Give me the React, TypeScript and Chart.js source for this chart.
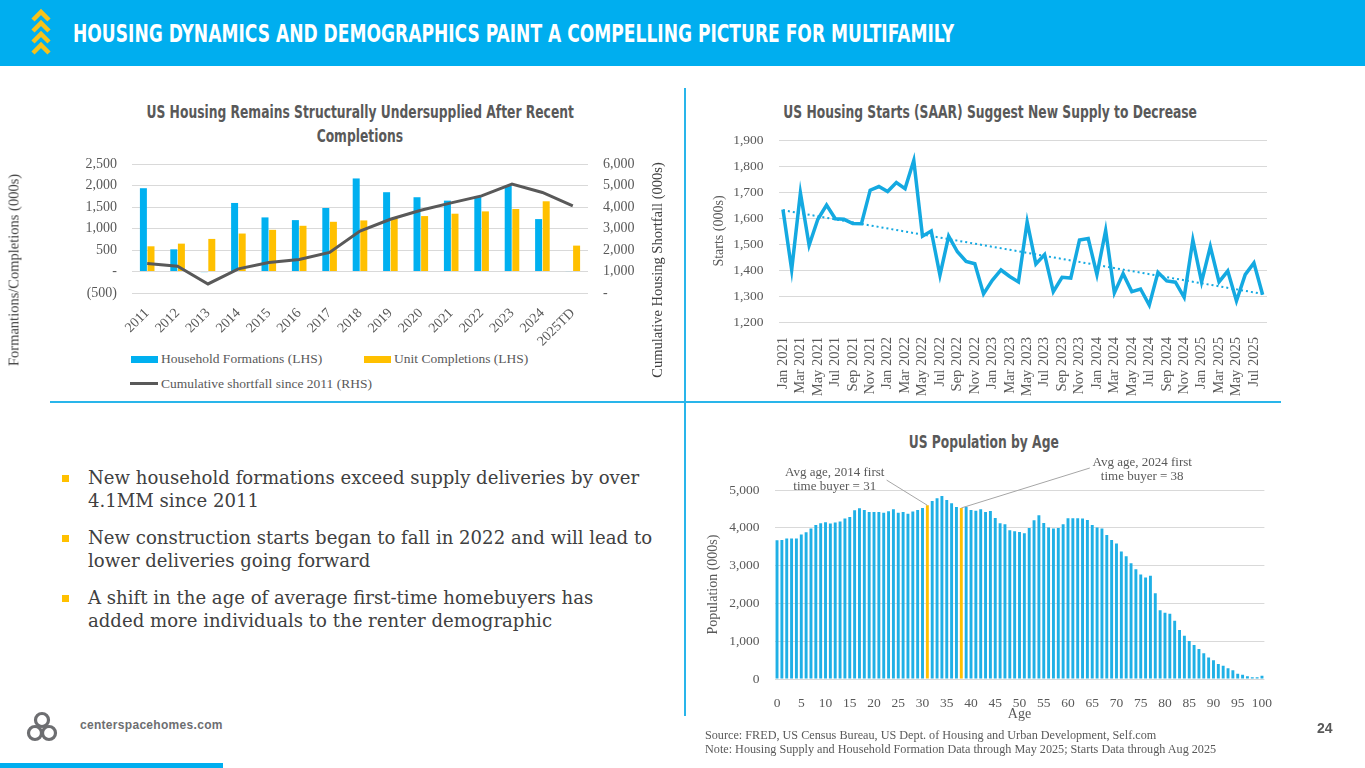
import React, { useEffect, useRef } from "react";
import { Chart, registerables } from "chart.js";

Chart.register(...registerables);

// ---------- DATA ----------
const supplyYears = ["2011", "2012", "2013", "2014", "2015", "2016", "2017", "2018", "2019", "2020", "2021", "2022", "2023", "2024", "2025TD"];
const householdFormations = [1937, 516, -15, 1594, 1258, 1195, 1477, 2164, 1844, 1727, 1648, 1750, 2000, 1219, 10];
const unitCompletions = [586, 648, 758, 883, 969, 1063, 1156, 1188, 1234, 1289, 1344, 1398, 1453, 1633, 602];
const cumulativeShortfall = [1371, 1247, 421, 1122, 1418, 1558, 1886, 2883, 3429, 3849, 4192, 4519, 5065, 4675, 4052];

const monthNames = ["Jan", "Feb", "Mar", "Apr", "May", "Jun", "Jul", "Aug", "Sep", "Oct", "Nov", "Dec"];
const startsYears = [2021, 2022, 2023, 2024, 2025];
const startsMonths: string[] = [];
startsYears.forEach((yr) => monthNames.forEach((m, i) => { if (yr < 2025 || i < 8) startsMonths.push(`${m} ${yr}`); }));
const housingStarts = [
  1633, 1401, 1697, 1495, 1595, 1650, 1597, 1595, 1579, 1578, 1707, 1721,
  1702, 1736, 1713, 1821, 1530, 1550, 1380, 1530, 1470, 1433, 1424, 1308,
  1360, 1400, 1375, 1354, 1585, 1423, 1459, 1317, 1372, 1369, 1515, 1521,
  1382, 1552, 1312, 1386, 1317, 1327, 1265, 1391, 1358, 1353, 1295, 1515,
  1354, 1490, 1354, 1396, 1281, 1382, 1427, 1305,
];
const startsTrendEnds = [1630, 1308];

const populationAges: string[] = [];
for (let a = 0; a <= 100; a++) populationAges.push(String(a));
const populationByAge = [
  3671, 3680, 3715, 3715, 3715, 3820, 3882, 3979, 4076, 4120,
  4146, 4111, 4137, 4164, 4243, 4287, 4463, 4516, 4472, 4419,
  4419, 4419, 4401, 4437, 4489, 4401, 4419, 4375, 4428, 4472,
  4525, 4595, 4710, 4780, 4842, 4736, 4648, 4551, 4525, 4560,
  4472, 4454, 4489, 4419, 4445, 4261, 4120, 4093, 3935, 3908,
  3891, 3856, 3996, 4199, 4331, 4128, 4005, 3979, 3996, 4093,
  4252, 4252, 4252, 4243, 4208, 4076, 4005, 3979, 3812, 3680,
  3583, 3372, 3248, 3063, 2905, 2764, 2685, 2729, 2271, 1822,
  1752, 1725, 1540, 1294, 1144, 1004, 898, 792, 678, 572,
  493, 396, 352, 282, 229, 141, 114, 70, 44, 44,
  88,
];
const firstBuyerAges = [31, 38];
const firstBuyerYears = [2014, 2024];

// ---------- STYLE ----------
const COND = '"Liberation Sans Narrow", "DejaVu Sans Condensed", "Arial Narrow", sans-serif';
const SERIF = '"Liberation Serif", "Times New Roman", serif';
const BODY_SERIF = '"DejaVu Serif", serif';
const BRAND_BLUE = "#00AEEF";
const BAR_BLUE = "#00B0F0";
const LINE_BLUE = "#14A9E1";
const GOLD = "#FFC000";
const GREY = "#595959";
const GRID = "#d9d9d9";

Chart.defaults.color = GREY;

const fmt = (v: number) => Number(v).toLocaleString("en-US");

// fixes a vertical axis' width and removes its automatic label padding
const fixY = (w: number) => (s: any) => {
  s.width = w;
  s.paddingTop = 0;
  s.paddingBottom = 0;
};

function ChartBox({ left, top, width, height, make }: any) {
  const ref = useRef<HTMLCanvasElement>(null);
  useEffect(() => {
    const chart = new Chart(ref.current as HTMLCanvasElement, make());
    return () => chart.destroy();
  }, []);
  return (
    <canvas
      ref={ref}
      width={width}
      height={height}
      style={{ position: "absolute", left, top, width, height }}
    />
  );
}

// ---------- CHART 1 ----------
const makeSupply = (): any => ({
  type: "bar",
  data: {
    labels: supplyYears,
    datasets: [
      {
        type: "line",
        label: "Cumulative shortfall since 2011 (RHS)",
        data: cumulativeShortfall,
        yAxisID: "y1",
        borderColor: "#595959",
        borderWidth: 3,
        pointRadius: 0,
        tension: 0,
        order: 0,
      },
      {
        label: "Household Formations (LHS)",
        data: householdFormations,
        backgroundColor: BAR_BLUE,
        yAxisID: "y",
        categoryPercentage: 0.5,
        barPercentage: 0.92,
        order: 1,
      },
      {
        label: "Unit Completions (LHS)",
        data: unitCompletions,
        backgroundColor: GOLD,
        yAxisID: "y",
        categoryPercentage: 0.5,
        barPercentage: 0.92,
        order: 2,
      },
    ],
  },
  options: {
    responsive: false,
    animation: false,
    layout: { padding: { left: 0, right: 17, top: 14, bottom: 0 } },
    plugins: { legend: { display: false }, tooltip: { enabled: false } },
    scales: {
      x: {
        grid: { display: false },
        border: { display: false },
        ticks: { font: { family: SERIF, size: 14 }, color: GREY, minRotation: 45, maxRotation: 45, padding: 4, autoSkip: false },
        afterFit: (s: any) => { s.height = 57; },
      },
      y: {
        position: "left",
        min: -500,
        max: 2500,
        grid: { color: GRID, drawTicks: false },
        border: { display: false },
        ticks: {
          stepSize: 500,
          padding: 15,
          font: { family: SERIF, size: 14 },
          color: GREY,
          callback: (v: number) => (v < 0 ? `(${fmt(-v)})` : v === 0 ? "-" : fmt(v)),
        },
        afterFit: fixY(132),
      },
      y1: {
        position: "right",
        min: 0,
        max: 6000,
        grid: { display: false, drawTicks: false },
        border: { display: false },
        ticks: {
          stepSize: 1000,
          padding: 15,
          font: { family: SERIF, size: 14 },
          color: GREY,
          callback: (v: number) => (v === 0 ? "-" : fmt(v)),
        },
        afterFit: fixY(80),
      },
    },
  },
});

// ---------- CHART 2 ----------
const makeStarts = (): any => {
  const trend = housingStarts.map((_, i) =>
    i === 0 ? startsTrendEnds[0] : i === housingStarts.length - 1 ? startsTrendEnds[1] : null
  );
  return {
    type: "line",
    data: {
      labels: startsMonths,
      datasets: [
        {
          label: "Housing Starts",
          data: housingStarts,
          borderColor: LINE_BLUE,
          borderWidth: 3.5,
          pointRadius: 0,
          tension: 0,
          borderJoinStyle: "miter",
        },
        {
          label: "Trend",
          data: trend,
          spanGaps: true,
          borderColor: LINE_BLUE,
          borderWidth: 2,
          borderDash: [2, 3],
          pointRadius: 0,
        },
      ],
    },
    options: {
      responsive: false,
      animation: false,
      layout: { padding: { left: 22, right: 98, top: 15, bottom: 0 } },
      plugins: { legend: { display: false }, tooltip: { enabled: false } },
      scales: {
        x: {
          offset: true,
          grid: { display: false },
          border: { display: false },
          ticks: {
            autoSkip: false,
            minRotation: 90,
            maxRotation: 90,
            padding: 7,
            font: { family: SERIF, size: 14.5 },
            color: GREY,
            callback: (_v: any, i: number) => (i % 2 === 0 ? startsMonths[i] : ""),
          },
          afterFit: (s: any) => { s.height = 83; },
        },
        y: {
          min: 1200,
          max: 1900,
          grid: { color: GRID, drawTicks: false },
          border: { display: false },
          ticks: { stepSize: 100, padding: 15, font: { family: SERIF, size: 13.5 }, color: GREY, callback: (v: number) => fmt(v) },
          title: { display: true, text: "Starts (000s)", font: { family: SERIF, size: 14 }, color: GREY, padding: { top: 4, bottom: 4 } },
          afterFit: fixY(71.6),
        },
      },
    },
  };
};

// ---------- CHART 3 ----------
const buyerNotes = {
  id: "buyerNotes",
  afterDatasetsDraw(chart: any) {
    const { ctx, scales } = chart;
    const x = scales.x;
    const y = scales.y;
    const notes = [
      { age: firstBuyerAges[0], year: firstBuyerYears[0], tx: 11.9, ty: [5450, 5080], fx: 22.6, fv: 5262 },
      { age: firstBuyerAges[1], year: firstBuyerYears[1], tx: 75.3, ty: [5714, 5344], fx: 64.5, fv: 5582 },
    ];
    ctx.save();
    ctx.strokeStyle = "#a6a6a6";
    ctx.lineWidth = 1;
    ctx.fillStyle = GREY;
    ctx.font = `13px ${SERIF}`;
    ctx.textAlign = "center";
    ctx.textBaseline = "middle";
    notes.forEach((n) => {
      ctx.beginPath();
      ctx.moveTo(x.getPixelForValue(n.fx), y.getPixelForValue(n.fv));
      ctx.lineTo(x.getPixelForValue(n.age), y.getPixelForValue(populationByAge[n.age]));
      ctx.stroke();
      ctx.fillText(`Avg age, ${n.year} first`, x.getPixelForValue(n.tx), y.getPixelForValue(n.ty[0]));
      ctx.fillText(`time buyer = ${n.age}`, x.getPixelForValue(n.tx), y.getPixelForValue(n.ty[1]));
    });
    ctx.restore();
  },
};

const makePopulation = (): any => ({
  type: "bar",
  data: {
    labels: populationAges,
    datasets: [
      {
        label: "Population",
        data: populationByAge,
        backgroundColor: populationAges.map((_, i) => (firstBuyerAges.includes(i) ? GOLD : "#1FB0E6")),
        categoryPercentage: 1,
        barPercentage: 0.6,
      },
    ],
  },
  options: {
    responsive: false,
    animation: false,
    layout: { padding: { left: 16, right: 100.6, top: 40, bottom: 0 } },
    plugins: { legend: { display: false }, tooltip: { enabled: false } },
    scales: {
      x: {
        grid: { display: false },
        border: { display: false },
        ticks: {
          autoSkip: false,
          maxRotation: 0,
          minRotation: 0,
          padding: 8,
          font: { family: SERIF, size: 13.5 },
          color: GREY,
          callback: (_v: any, i: number) => (i % 5 === 0 ? populationAges[i] : ""),
        },
        title: { display: true, text: "Age", font: { family: SERIF, size: 14 }, color: GREY, padding: { top: 0, bottom: 7 } },
        afterFit: (s: any) => { s.height = 51; },
      },
      y: {
        min: 0,
        max: 5000,
        grid: { color: GRID, drawTicks: false },
        border: { display: false },
        ticks: { stepSize: 1000, padding: 15, font: { family: SERIF, size: 13.5 }, color: GREY, callback: (v: number) => fmt(v) },
        title: { display: true, text: "Population (000s)", font: { family: SERIF, size: 14 }, color: GREY, padding: { top: 4, bottom: 4 } },
        afterFit: fixY(73.6),
      },
    },
  },
  plugins: [buyerNotes],
});

// ---------- PAGE ----------
const abs = (o: any) => ({ position: "absolute" as const, ...o });

function Bullet({ top, lines }: { top: number; lines: string[] }) {
  return (
    <div style={abs({ left: 88, top, fontFamily: BODY_SERIF, fontSize: 18.1, lineHeight: "22.5px", color: "#404040", whiteSpace: "nowrap" })}>
      <div style={abs({ left: -26, top: 8, width: 7, height: 7, background: GOLD })} />
      {lines.map((l, i) => (
        <div key={i}>{l}</div>
      ))}
    </div>
  );
}

function CondTitle({ cx, top, lines }: { cx: number; top: number; lines: string[] }) {
  return (
    <div style={abs({ left: cx - 400, top, width: 800, textAlign: "center" })}>
      {lines.map((l, i) => (
        <div key={i} style={{ height: 24 }}>
          <span style={{ display: "inline-block", transform: "scaleX(0.76)", transformOrigin: "center", fontFamily: COND, fontWeight: 700, fontSize: 18, lineHeight: "24px", color: GREY, whiteSpace: "nowrap" }}>{l}</span>
        </div>
      ))}
    </div>
  );
}

const rotTitle: any = { position: "absolute", left: 0, top: 0, transform: "translate(-50%,-50%) rotate(-90deg)", whiteSpace: "nowrap", fontFamily: SERIF, fontSize: 14.5, color: "#404040" };

export default function App() {
  return (
    <div style={abs({ left: 0, top: 0, width: 1365, height: 768, background: "#fff", overflow: "hidden" })}>
      {/* header */}
      <div style={abs({ left: 0, top: 0, width: 1365, height: 66, background: BRAND_BLUE })} />
      <svg style={abs({ left: 0, top: 0 })} width={70} height={66}>
        {[12, 23, 34, 45].map((y) => (
          <polyline key={y} points={`33,${y + 8} 41,${y} 49,${y + 8}`} fill="none" stroke="#F5C21B" strokeWidth={4.5} />
        ))}
      </svg>
      <div style={abs({ left: 73, top: 21, fontFamily: COND, fontWeight: 700, fontSize: 25, lineHeight: "25px", color: "#fff", whiteSpace: "nowrap", transform: "scaleX(0.76)", transformOrigin: "left center" })}>
        HOUSING DYNAMICS AND DEMOGRAPHICS PAINT A COMPELLING PICTURE FOR MULTIFAMILY
      </div>

      {/* dividers */}
      <div style={abs({ left: 684, top: 88, width: 2, height: 628, background: "#29B5EA" })} />
      <div style={abs({ left: 50, top: 401, width: 1231, height: 2, background: "#29B5EA" })} />

      {/* chart titles */}
      <CondTitle cx={360} top={100} lines={["US Housing Remains Structurally Undersupplied After Recent", "Completions"]} />
      <CondTitle cx={990} top={100} lines={["US Housing Starts (SAAR) Suggest New Supply to Decrease"]} />
      <CondTitle cx={984} top={430} lines={["US Population by Age"]} />

      {/* chart 1 */}
      <ChartBox left={0} top={150} width={685} height={200} make={makeSupply} />
      <div style={abs({ left: 14, top: 270, width: 0, height: 0 })}>
        <div style={rotTitle}>Formantions/Completions (000s)</div>
      </div>
      <div style={abs({ left: 657, top: 270, width: 0, height: 0 })}>
        <div style={rotTitle}>Cumulative Housing Shortfall (000s)</div>
      </div>
      {/* legend chart 1 */}
      <div style={abs({ left: 131, top: 356, width: 27, height: 7, background: BAR_BLUE })} />
      <div style={abs({ left: 161, top: 350, fontFamily: SERIF, fontSize: 13.5, lineHeight: "18px", color: GREY, whiteSpace: "nowrap" })}>Household Formations (LHS)</div>
      <div style={abs({ left: 364, top: 356, width: 27, height: 7, background: GOLD })} />
      <div style={abs({ left: 394, top: 350, fontFamily: SERIF, fontSize: 13.5, lineHeight: "18px", color: GREY, whiteSpace: "nowrap" })}>Unit Completions (LHS)</div>
      <div style={abs({ left: 130, top: 382, width: 28, height: 3, background: "#595959" })} />
      <div style={abs({ left: 161, top: 375, fontFamily: SERIF, fontSize: 13.5, lineHeight: "18px", color: GREY, whiteSpace: "nowrap" })}>Cumulative shortfall since 2011 (RHS)</div>

      {/* chart 2 */}
      <ChartBox left={685} top={125} width={680} height={280} make={makeStarts} />

      {/* chart 3 */}
      <ChartBox left={685} top={450} width={680} height={280} make={makePopulation} />

      {/* bullets */}
      <Bullet top={467} lines={["New household formations exceed supply deliveries by over", "4.1MM since 2011"]} />
      <Bullet top={527} lines={["New construction starts began to fall in 2022 and will lead to", "lower deliveries going forward"]} />
      <Bullet top={587} lines={["A shift in the age of average first-time homebuyers has", "added more individuals to the renter demographic"]} />

      {/* footer */}
      <svg style={abs({ left: 24, top: 710 })} width={36} height={36}>
        <g fill="none" stroke="#6d6e71" strokeWidth={3.2}>
          <circle cx={18} cy={10} r={6.5} />
          <circle cx={11} cy={23} r={6.5} />
          <circle cx={25} cy={23} r={6.5} />
        </g>
      </svg>
      <div style={abs({ left: 80, top: 718, fontFamily: '"Liberation Sans", Arial, sans-serif', fontWeight: 700, fontSize: 12, letterSpacing: 0.3, color: "#6d6e71", whiteSpace: "nowrap" })}>
        centerspacehomes.com
      </div>
      <div style={abs({ left: 1317, top: 720, fontFamily: '"Liberation Sans", Arial, sans-serif', fontWeight: 700, fontSize: 14, color: GREY })}>24</div>
      <div style={abs({ left: 705, top: 728, fontFamily: SERIF, fontSize: 12.2, lineHeight: "14px", color: GREY, whiteSpace: "nowrap" })}>
        Source: FRED, US Census Bureau, US Dept. of Housing and Urban Development, Self.com<br />
        Note: Housing Supply and Household Formation Data through May 2025; Starts Data through Aug 2025
      </div>
      <div style={abs({ left: 0, top: 763, width: 223, height: 5, background: BRAND_BLUE })} />
    </div>
  );
}
